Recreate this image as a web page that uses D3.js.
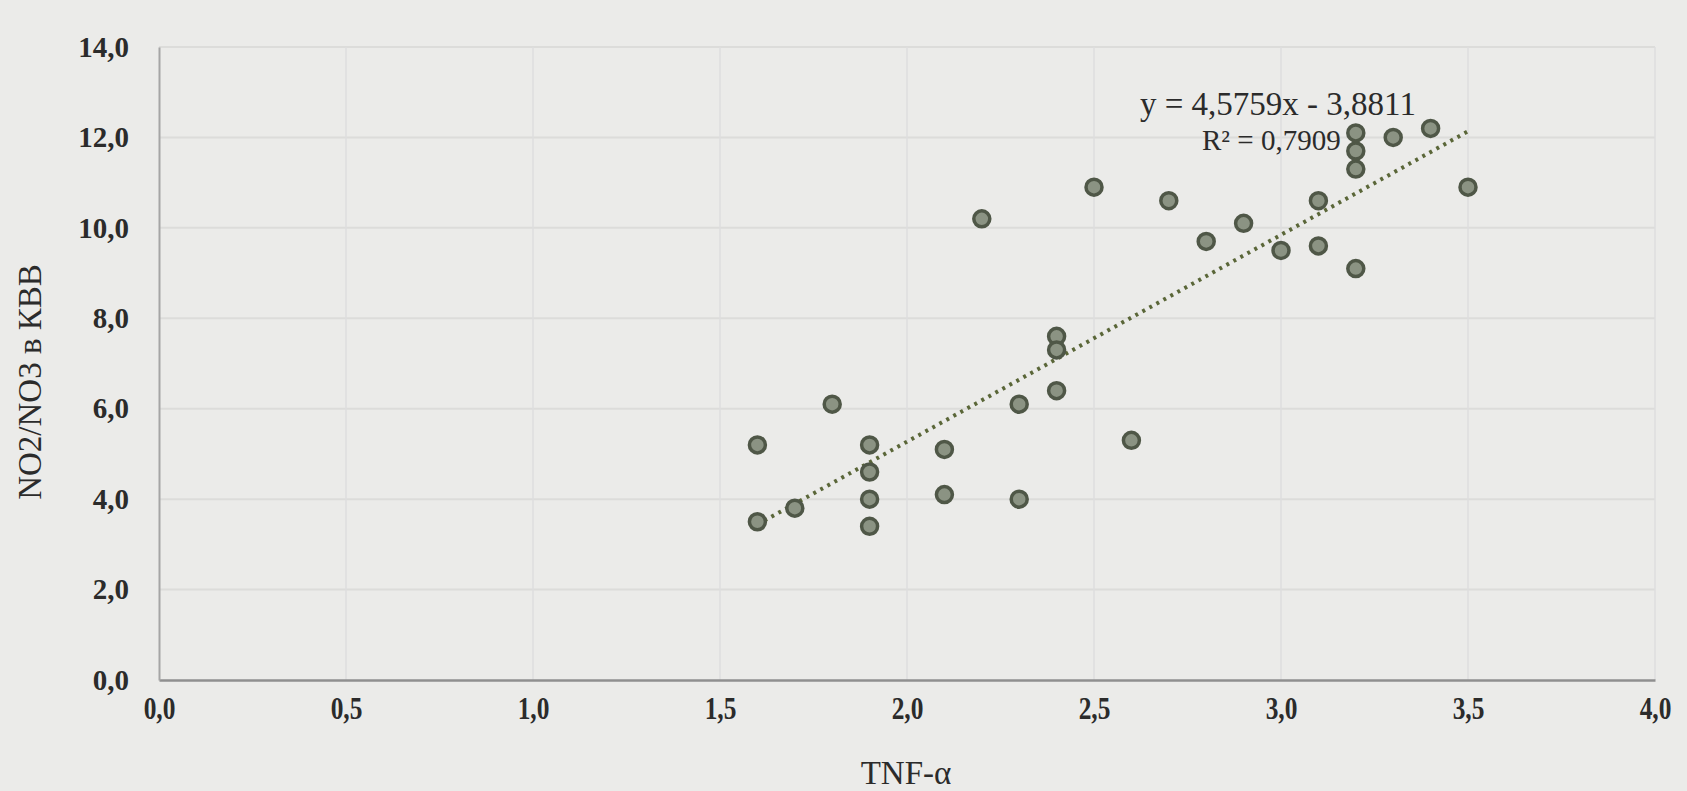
<!DOCTYPE html>
<html>
<head>
<meta charset="utf-8">
<script src="https://cdn.jsdelivr.net/npm/d3@7"></script>
<style>
  body { margin: 0; background: #ebebe9; }
  svg text { font-family: "Liberation Serif", "DejaVu Serif", serif; fill: #2b2b2b; }
</style>
</head>
<body>
<svg id="chart"></svg>
<script>
// TNF-a vs NO2/NO3 values
const tnf = [1.6, 1.6, 1.7, 1.8, 1.9, 1.9, 1.9, 1.9, 2.1, 2.1, 2.2, 2.3, 2.3, 2.4, 2.4, 2.4,
             2.5, 2.6, 2.7, 2.8, 2.9, 3.0, 3.1, 3.1, 3.2, 3.2, 3.2, 3.2, 3.3, 3.4, 3.5];
const no = [5.2, 3.5, 3.8, 6.1, 5.2, 4.6, 4.0, 3.4, 5.1, 4.1, 10.2, 6.1, 4.0, 6.4, 7.6, 7.3,
            10.9, 5.3, 10.6, 9.7, 10.1, 9.5, 9.6, 10.6, 9.1, 11.3, 11.7, 12.1, 12.0, 12.2, 10.9];
const xTicks = [0, 0.5, 1, 1.5, 2, 2.5, 3, 3.5, 4];
const yTicks = [0, 2, 4, 6, 8, 10, 12, 14];
const slope = 4.5759, intercept = -3.8811;
const eqText = "y = 4,5759x - 3,8811";
const r2Text = "R² = 0,7909";

const width = 1687, height = 791;
const margin = { left: 159, right: 32, top: 47, bottom: 111 };

const svg = d3.select("#chart").attr("width", width).attr("height", height);

const x = d3.scaleLinear().domain([0, 4]).range([margin.left, width - margin.right]);
const y = d3.scaleLinear().domain([0, 14]).range([height - margin.bottom, margin.top]);
const fmt = v => d3.format(".1f")(v).replace(".", ",");

// gridlines
svg.append("g").selectAll("line").data(yTicks.slice(1)).enter().append("line")
  .attr("x1", x(0)).attr("x2", x(4))
  .attr("y1", d => y(d)).attr("y2", d => y(d))
  .attr("stroke", "#dcdcda").attr("stroke-width", 2);
svg.append("g").selectAll("line").data(xTicks.slice(1)).enter().append("line")
  .attr("x1", d => x(d)).attr("x2", d => x(d))
  .attr("y1", y(0)).attr("y2", y(14))
  .attr("stroke", "#dedede").attr("stroke-width", 1.5);

// axes
const xAxis = svg.append("g").attr("transform", "translate(0," + y(0) + ")")
  .call(d3.axisBottom(x).tickValues(xTicks).tickFormat(fmt).tickSize(0).tickPadding(17));
const yAxis = svg.append("g").attr("transform", "translate(" + x(0) + ",0)")
  .call(d3.axisLeft(y).tickValues(yTicks).tickFormat(fmt).tickSize(0).tickPadding(30));
xAxis.select(".domain").attr("stroke", "#8f8f8f").attr("stroke-width", 2.5);
yAxis.select(".domain").attr("stroke", "#a5a5a5").attr("stroke-width", 2);
svg.selectAll(".tick text").style("font-size", "29px").style("font-weight", "bold")
  .style("font-family", "Liberation Serif, serif").attr("fill", "#2b2b2b");
// x labels look narrow in the picture
xAxis.selectAll(".tick text").style("font-size", "31px").attr("transform", "scale(0.82,1)");

// axis titles
svg.append("text").attr("x", 906).attr("y", 784).attr("text-anchor", "middle")
  .style("font-size", "33px").text("TNF-α");
svg.append("text").attr("transform", "translate(41,382) rotate(-90)")
  .attr("text-anchor", "middle").style("font-size", "33px").text("NO2/NO3 в КВВ");

// trendline
const xs = d3.extent(tnf);
svg.append("line")
  .attr("x1", x(xs[0])).attr("y1", y(slope * xs[0] + intercept))
  .attr("x2", x(xs[1])).attr("y2", y(slope * xs[1] + intercept))
  .attr("stroke", "#5a6638").attr("stroke-width", 4)
  .attr("stroke-dasharray", "3,5");

// points
svg.append("g").selectAll("circle").data(tnf).enter().append("circle")
  .attr("cx", d => x(d))
  .attr("cy", (d, i) => y(no[i]))
  .attr("r", 8)
  .attr("fill", "#8b9383")
  .attr("stroke", "#4f5747")
  .attr("stroke-width", 3.5);

// equation label
svg.append("text").attr("x", 1140).attr("y", 115)
  .style("font-size", "33px").text(eqText);
svg.append("text").attr("x", 1202).attr("y", 150)
  .style("font-size", "29px").text(r2Text);
</script>
</body>
</html>
